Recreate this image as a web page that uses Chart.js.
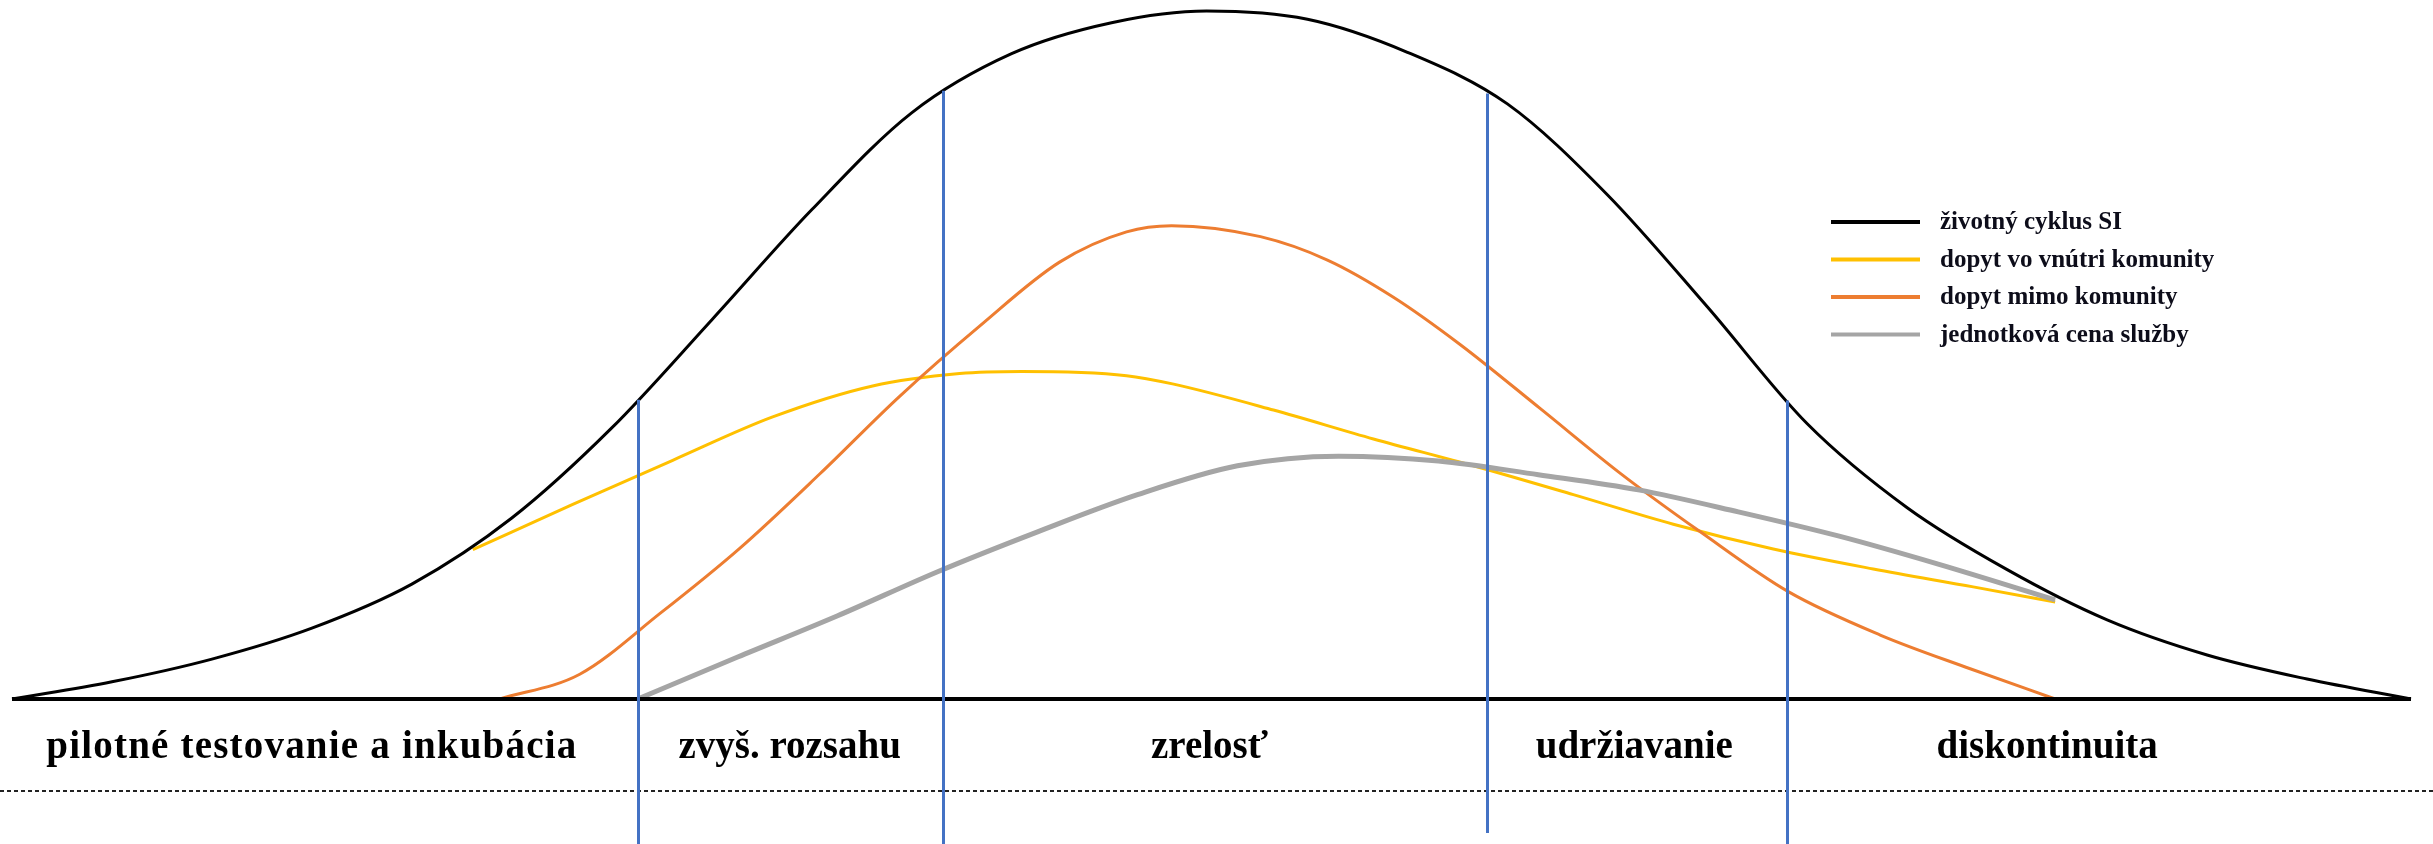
<!DOCTYPE html>
<html>
<head>
<meta charset="utf-8">
<script src="https://cdn.jsdelivr.net/npm/chart.js"></script>
<style>
  html, body { margin: 0; padding: 0; background: #fff; }
  canvas { display: block; }
</style>
</head>
<body>
<canvas id="mycanvas" width="2433" height="844"></canvas>
<script>
// time axis 0..240, intensity 0..100
var lifeX = [0, 10, 20, 30, 40, 50, 60, 70, 80, 90, 100, 110, 119.5, 129.6, 139.6, 149.6, 159.6, 169.6, 179.6, 189.6, 199.6, 209.6, 219.6, 229.6, 240];
var lifeY = [0, 2.5, 5.8, 10.3, 16.7, 26.3, 39.4, 55.1, 71.1, 85.2, 93.8, 98.3, 100, 98.8, 94.0, 86.5, 73.3, 57.0, 40.0, 27.8, 18.8, 11.5, 6.4, 2.9, 0];

var innerX = [46.1, 56.1, 66.1, 76.1, 86.1, 94.8, 101.0, 111.5, 116.1, 126.2, 136.2, 146.2, 156.2, 166.2, 176.2, 186.2, 196.2, 204.4];
var innerY = [21.7, 28.3, 34.7, 41.0, 45.5, 47.3, 47.6, 47.0, 45.8, 42.0, 37.8, 33.9, 29.7, 25.4, 21.8, 18.9, 16.3, 14.1];

var outerX = [48.8, 56.8, 64.8, 72.8, 80.8, 88.8, 96.8, 104.8, 111.5, 116.0, 124.9, 131.6, 138.2, 144.9, 152.9, 160.9, 168.9, 177.7, 186.9, 195.9, 204.4];
var outerY = [0, 3.6, 12.4, 21.9, 32.7, 44.0, 54.2, 63.5, 67.9, 68.8, 67.2, 63.8, 58.4, 51.5, 42.2, 32.8, 24.3, 15.6, 9.3, 4.4, 0];

var priceX = [62.6, 72.6, 82.6, 92.6, 102.6, 112.6, 122.6, 132.7, 142.7, 152.7, 162.7, 172.7, 182.7, 192.7, 204.4];
var priceY = [0, 6.1, 12.1, 18.5, 24.3, 29.7, 33.9, 35.3, 34.6, 32.6, 30.4, 27.2, 23.7, 19.6, 14.4];

var seriesLabels = ["životný cyklus SI", "dopyt vo vnútri komunity", "dopyt mimo komunity", "jednotková cena služby"];

// phase boundaries (blue lines) and where they meet the life cycle curve
var phaseX = [62.6, 93.1, 147.6, 177.6];
var phaseTop = [43.5, 88.4, 88.0, 43.4];

var phaseLabels = ["pilotné testovanie a inkubácia", "zvyš. rozsahu", "zrelosť", "udržiavanie", "diskontinuita"];
var phaseLabelX = [30.0, 77.8, 119.8, 162.3, 203.6];

function pts(xs, ys){
    var out = [];
    for(var i in xs){
        out.push({x: xs[i], y: ys[i]});
    }
    return out;
}

var phasePlugin = {
    id: 'phases',
    afterDatasetsDraw: function(chart){
        var ctx = chart.ctx;
        var xs = chart.scales.x, ys = chart.scales.y;
        ctx.save();

        // dashed separator under the phase names
        ctx.strokeStyle = '#222';
        ctx.lineWidth = 2;
        ctx.setLineDash([4, 3]);
        ctx.beginPath();
        ctx.moveTo(0, 791);
        ctx.lineTo(chart.width, 791);
        ctx.stroke();
        ctx.setLineDash([]);

        // phase names
        ctx.fillStyle = '#000';
        ctx.font = 'bold 39px "Liberation Serif"';
        ctx.textAlign = 'center';
        ctx.textBaseline = 'alphabetic';
        for(var i = 0; i < phaseLabels.length; i++){
            ctx.letterSpacing = (i === 0) ? '1.2px' : '0px';
            ctx.fillText(phaseLabels[i], xs.getPixelForValue(phaseLabelX[i]), 758);
        }
        ctx.letterSpacing = '0px';

        // blue phase boundaries
        ctx.strokeStyle = '#4472C4';
        ctx.lineWidth = 3;
        for(var j = 0; j < phaseX.length; j++){
            var px = Math.round(xs.getPixelForValue(phaseX[j])) + 0.5;
            ctx.beginPath();
            ctx.moveTo(px, ys.getPixelForValue(phaseTop[j]));
            ctx.lineTo(px, j === 2 ? 833 : chart.height);
            ctx.stroke();
        }

        // legend
        var lx = 1831, ly = 222;
        ctx.textAlign = 'left';
        ctx.font = 'bold 25px "Liberation Serif"';
        chart.data.datasets.forEach(function(ds){
            if(!ds.label) return;
            ctx.strokeStyle = ds.borderColor;
            ctx.lineWidth = 4;
            ctx.beginPath();
            ctx.moveTo(lx, ly);
            ctx.lineTo(lx + 89, ly);
            ctx.stroke();
            ctx.fillStyle = '#0d0d1a';
            ctx.fillText(ds.label, lx + 109, ly + 7);
            ly += 37.5;
        });
        ctx.restore();
    }
};

var chartdata = {
    datasets: [
        {
            label: seriesLabels[0],
            data: pts(lifeX, lifeY),
            borderColor: "#000000",
            borderWidth: 3,
            order: 1
        },
        {
            label: seriesLabels[1],
            data: pts(innerX, innerY),
            borderColor: "#FFC000",
            borderWidth: 3,
            order: 4
        },
        {
            label: seriesLabels[2],
            data: pts(outerX, outerY),
            borderColor: "#ED7D31",
            borderWidth: 3,
            order: 3
        },
        {
            label: seriesLabels[3],
            data: pts(priceX, priceY),
            borderColor: "#A5A5A5",
            borderWidth: 5,
            order: 2
        },
        {
            // time axis baseline
            label: '',
            data: pts([0, 240], [0, 0]),
            borderColor: "#000000",
            borderWidth: 4,
            cubicInterpolationMode: 'default',
            tension: 0,
            order: 0
        }
    ]
};

var ctx = document.getElementById('mycanvas');
var LineGraph = new Chart(ctx, {
    type: 'line',
    data: chartdata,
    options: {
        responsive: false,
        animation: false,
        devicePixelRatio: 1,
        layout: { padding: { left: 12, right: 22, top: 11, bottom: 145 } },
        elements: {
            point: { radius: 0 },
            line: { cubicInterpolationMode: 'monotone', fill: false, borderCapStyle: 'butt', borderJoinStyle: 'round' }
        },
        datasets: { line: { clip: false } },
        plugins: { legend: { display: false }, tooltip: { enabled: false } },
        scales: {
            x: { type: 'linear', min: 0, max: 240, display: false },
            y: { min: 0, max: 100, display: false }
        }
    },
    plugins: [phasePlugin]
});
</script>
</body>
</html>
